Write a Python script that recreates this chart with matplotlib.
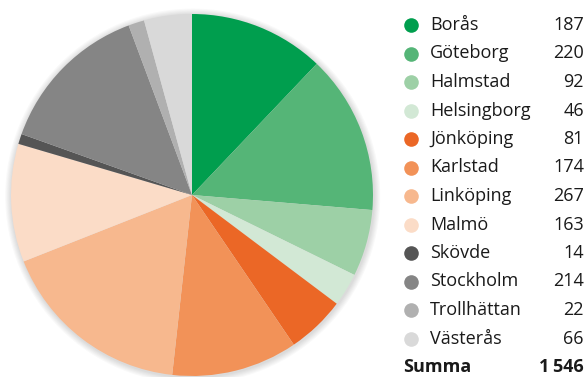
import matplotlib
matplotlib.use("Agg")
import matplotlib.pyplot as plt
from matplotlib.patches import Circle

cities = ["Borås", "Göteborg", "Halmstad", "Helsingborg", "Jönköping", "Karlstad",
          "Linköping", "Malmö", "Skövde", "Stockholm", "Trollhättan", "Västerås"]
values = [187, 220, 92, 46, 81, 174, 267, 163, 14, 214, 22, 66]
value_labels = ["187", "220", "92", "46", "81", "174", "267", "163", "14", "214", "22", "66"]
total_label = "Summa"
total_value = "1\u2009546"
colors = ["#009E4E", "#55B577", "#9DD0A6", "#D2E8D5", "#EB6726", "#F29258",
          "#F7B88E", "#FBDCC7", "#555555", "#858585", "#B0B0B0", "#D9D9D9"]

W, H = 588, 377
fig = plt.figure(figsize=(W / 100, H / 100), dpi=100)
fig.patch.set_facecolor("white")

# pie axes
cx, cy, r = 192, 195, 181
ax = fig.add_axes([(cx - r) / W, (H - cy - r) / H, 2 * r / W, 2 * r / H])
ax.set_xlim(-1, 1)
ax.set_ylim(-1, 1)
ax.set_aspect("equal")
ax.axis("off")
# soft shadow
for i in range(6):
    ax.add_patch(Circle((0.004, -0.006), 1.0 + 0.006 * (i + 1), color="black",
                        alpha=0.025, lw=0, zorder=0, clip_on=False))
ax.pie(values, colors=colors, startangle=90, counterclock=False, radius=1.0,
       wedgeprops=dict(linewidth=0), center=(0, 0), frame=False)
ax.set_xlim(-1, 1)
ax.set_ylim(-1, 1)

# legend overlay
lax = fig.add_axes([0, 0, 1, 1])
lax.set_xlim(0, W)
lax.set_ylim(H, 0)
lax.axis("off")
fam = ["Open Sans", "DejaVu Sans"]
y0, dy = 25, 28.5
for i, (c, v, col) in enumerate(zip(cities, value_labels, colors)):
    y = y0 + i * dy
    lax.plot([411], [y], "o", color=col, markersize=10.5, markeredgewidth=0)
    lax.text(430, y, c, fontsize=13, family=fam, va="center", ha="left", color="#1a1a1a")
    lax.text(584, y, v, fontsize=13, family=fam, va="center", ha="right", color="#1a1a1a")
y = y0 + len(cities) * dy
lax.text(403, y, total_label, fontsize=13, family=fam, va="center", ha="left",
         fontweight="bold", color="#1a1a1a")
lax.text(584, y, total_value, fontsize=13, family=fam, va="center", ha="right",
         fontweight="bold", color="#1a1a1a")

fig.savefig("out.png", dpi=100, facecolor="white")
